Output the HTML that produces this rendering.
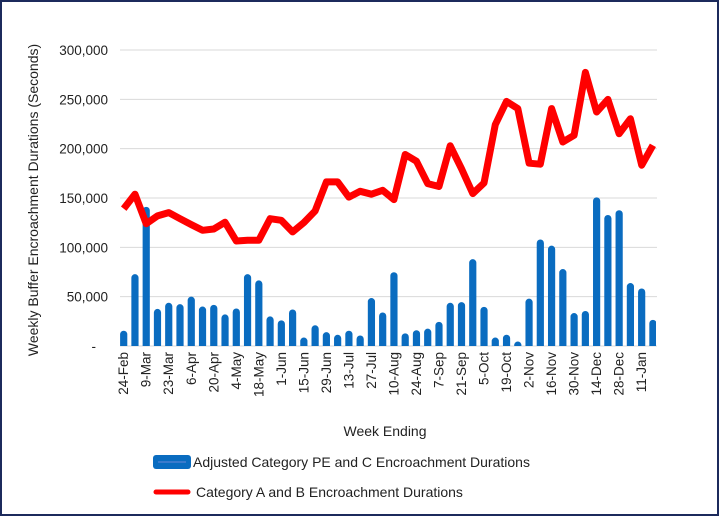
<!DOCTYPE html>
<html><head><meta charset="utf-8"><style>
html,body{margin:0;padding:0;background:#fff;}
body{width:719px;height:516px;overflow:hidden;}
svg{display:block;font-family:"Liberation Sans",sans-serif;}
</style></head><body>
<svg id="c" width="719" height="516" xmlns="http://www.w3.org/2000/svg">
<rect x="1" y="1" width="717" height="514" fill="#fff" stroke="#1c2a5c" stroke-width="2"/>
</svg>
<script>
const s=document.getElementById('c');const NS='http://www.w3.org/2000/svg';
function el(t,a,txt){const e=document.createElementNS(NS,t);for(const k in a)e.setAttribute(k,a[k]);if(txt!==undefined)e.textContent=txt;s.appendChild(e);return e;}
const y0=346,sc=296/300000;const Y=v=>y0-v*sc;
const labs=['300,000','250,000','200,000','150,000','100,000','50,000','-'];
for(let i=0;i<=6;i++){const v=300000-i*50000;const y=Y(v);
 if(i<6)el('line',{x1:120,x2:657,y1:y,y2:y,stroke:'#d9d9d9','stroke-width':1});
 el('text',{x:i==6?96:108,y:y+5,'text-anchor':'end','font-size':13.5,fill:'#222'},labs[i]);}
el('line',{x1:120,x2:657,y1:y0,y2:y0,stroke:'#d9d9d9','stroke-width':1});
const bars=[15.5,72.8,141,37.6,43.8,42.4,50,40,41.7,32,38,72.8,66.5,30,26,37,8.6,21,14,11.4,15.5,10.7,48.6,34,74.8,12.8,16,17.6,24.5,43.8,44.5,88,39.7,8.6,11.4,4.5,48,108,101.7,78,33.4,35.5,150.7,132.8,137.6,63.8,58.3,26.5];
const line=[142,157,126.5,134.5,138,131.7,125.5,119.7,121,128,108.6,109.3,109.3,131.7,130,118,127.6,139.6,169.7,169.7,154,160,157,161,151.4,198,191,168,165,207,183.4,157.6,168.6,229,253,245.5,189,188,245.5,211,218,283,242,255,219.6,235,187,207.6].map(v=>v*0.98);
const X=i=>123.7+i*11.26;
const defs=el('defs',{});const cp=document.createElementNS(NS,'clipPath');cp.setAttribute('id','pc');const r=document.createElementNS(NS,'rect');
r.setAttribute('x',119);r.setAttribute('y',0);r.setAttribute('width',537);r.setAttribute('height',346);cp.appendChild(r);defs.appendChild(cp);
const g=el('g',{'clip-path':'url(#pc)'});
bars.forEach((v,i)=>{const x=X(i)-3.6,y=Y(v*1000),h=y0-y;const p=document.createElementNS(NS,'path');
 const rr=Math.min(3.6,h);p.setAttribute('d',`M${x},${y0}V${y+rr}A3.6,3.6 0 0 1 ${x+7.2},${y+rr}V${y0}Z`);p.setAttribute('fill','#0a6cc0');g.appendChild(p);});
const pts=line.map((v,i)=>X(i).toFixed(1)+','+Y(v*1000).toFixed(1)).join(' ');
const pl=document.createElementNS(NS,'polyline');pl.setAttribute('points',pts);pl.setAttribute('fill','none');pl.setAttribute('stroke','#f00');pl.setAttribute('stroke-width',7);pl.setAttribute('stroke-linejoin','round');g.appendChild(pl);
const xl=['24-Feb','9-Mar','23-Mar','6-Apr','20-Apr','4-May','18-May','1-Jun','15-Jun','29-Jun','13-Jul','27-Jul','10-Aug','24-Aug','7-Sep','21-Sep','5-Oct','19-Oct','2-Nov','16-Nov','30-Nov','14-Dec','28-Dec','11-Jan'];
xl.forEach((t,k)=>{const x=X(2*k)+4.5;el('text',{x:0,y:0,transform:`translate(${x},352) rotate(-90)`,'text-anchor':'end','font-size':13.5,fill:'#222'},t);});
el('text',{x:0,y:0,transform:'translate(38,200) rotate(-90)','text-anchor':'middle','font-size':14,fill:'#222'},'Weekly Buffer Encroachment Durations (Seconds)');
el('text',{x:385,y:436,'text-anchor':'middle','font-size':14,fill:'#222'},'Week Ending');
el('rect',{x:153,y:455,width:38,height:14,rx:3,fill:'#0a6cc0'});
el('line',{x1:158,x2:186,y1:462,y2:462,stroke:'#4a7fd0','stroke-width':1.5});
el('text',{x:193,y:467,'font-size':14,fill:'#222'},'Adjusted Category PE and C Encroachment Durations');
el('line',{x1:156,x2:188,y1:492,y2:492,stroke:'#f00','stroke-width':5,'stroke-linecap':'round'});
el('text',{x:196,y:497,'font-size':14,fill:'#222'},'Category A and B Encroachment Durations');
</script>
</body></html>
